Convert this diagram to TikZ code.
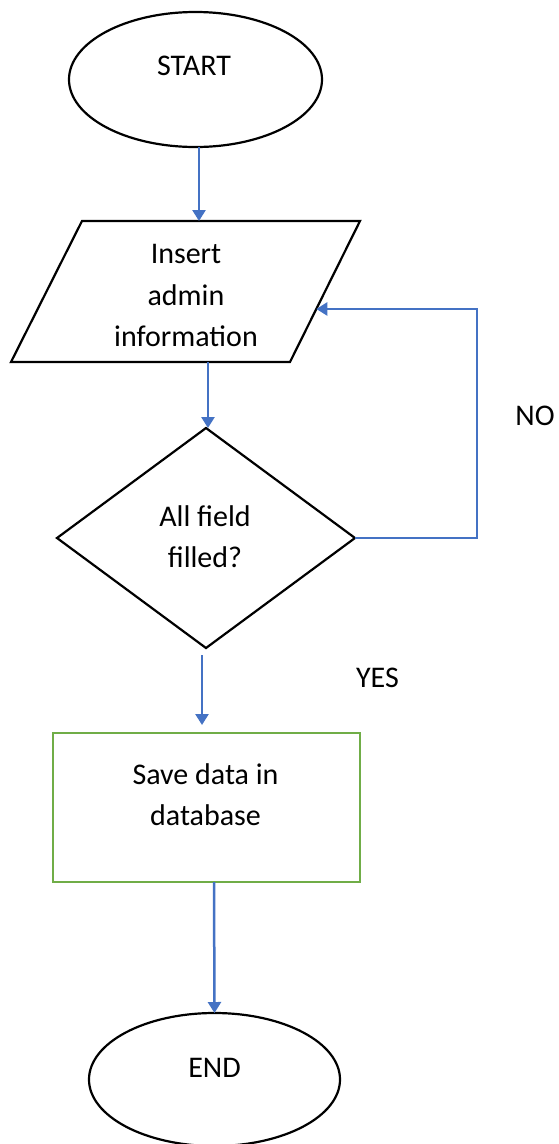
\documentclass[tikz,border=0pt]{standalone}
\usepackage{fontspec}
\setmainfont{Carlito}
\usetikzlibrary{shapes.geometric,arrows.meta,calc}
\definecolor{flowblue}{HTML}{4472C4}
\definecolor{flowgreen}{HTML}{70AD47}
\begin{document}
\begin{tikzpicture}[x=1pt,y=-1pt,
  outline/.style={draw=black,line width=2.2pt,inner sep=0pt,outer sep=0pt},
  terminal/.style={outline,ellipse},
  decision/.style={outline,diamond},
  process/.style={draw=flowgreen,line width=2.5pt,inner sep=0pt,outer sep=0pt},
  txt/.style={font=\fontsize{30}{41.5}\selectfont,align=center,inner sep=0pt,anchor=south},
  lbl/.style={font=\fontsize{30}{41.5}\selectfont,inner sep=0pt,anchor=base},
  arrow/.style={draw=flowblue,line width=2.5pt,-{Triangle[width=13pt,length=11pt]}}]
\useasboundingbox (0,0) rectangle (558,1144);
\fill[white] (0,0) rectangle (558,1144);

% shapes
\node[terminal,minimum width=253pt,minimum height=135pt] (start) at (195.5,79.5) {};
\coordinate (parTL) at (82,221);
\coordinate (parTR) at (360,221);
\coordinate (parBR) at (290,362);
\coordinate (parBL) at (11,362);
\draw[outline] (parTL) -- (parTR) -- (parBR) -- (parBL) -- cycle;
\node[decision,minimum width=298pt,minimum height=220pt] (dec) at (206,538) {};
\node[process,minimum width=307pt,minimum height=149pt] (box) at (206.5,807.5) {};
\node[terminal,minimum width=251pt,minimum height=133pt] (end) at (214.5,1079.5) {};

% texts
\node[txt] (starttxt) at (194,76) {START};
\node[txt] (partxt) at (186,347) {Insert\\admin\\information};
\node[txt] (dectxt) at (205,568) {All field\\filled?};
\node[txt] (boxtxt) at (205.5,826) {Save data in\\database};
\node[txt] (endtxt) at (214.5,1078) {END};
\node[lbl] (no) at (535,425) {NO};
\node[lbl] (yes) at (377.5,687) {YES};

% connectors
\coordinate (parout) at ($(parBL)!0.706!(parBR)$);
\coordinate (parin) at ($(parTR)!0.624!(parBR)$);
\coordinate (loopcorner) at ($(dec.east)+(122,0)$);
\draw[arrow] ([xshift=3.5pt]start.south) -- ([xshift=3.5pt]start.south |- parTL);
\draw[arrow] (parout) -- (parout |- dec.north);
\draw[arrow] (dec.east) -- (loopcorner) |- (parin);
\draw[arrow,shorten <=7pt,shorten >=8pt] ([xshift=-4pt]dec.south) -- ([xshift=-4pt]dec.south |- box.north);
\draw[arrow] ([xshift=7.5pt]box.south) -- (end.north);
\end{tikzpicture}
\end{document}
